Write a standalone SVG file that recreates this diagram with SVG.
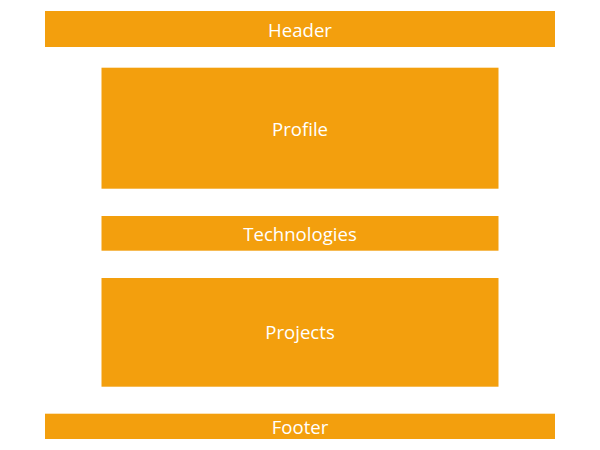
<svg xmlns="http://www.w3.org/2000/svg" width="600" height="450" viewBox="0 0 600 450">
<style>
.box{fill:#f39f0d;}
.lbl{fill:#ffffff;font-family:"Open Sans","Liberation Sans",sans-serif;font-size:18.6px;text-anchor:middle;dominant-baseline:central;}
</style>
<rect width="600" height="450" fill="#ffffff"/>
<g id="header"><rect class="box" x="45" y="11" width="510" height="36"/><text class="lbl" x="300" y="29">Header</text></g>
<g id="profile"><rect class="box" x="101.5" y="67.7" width="397" height="121"/><text class="lbl" x="300" y="128">Profile</text></g>
<g id="technologies"><rect class="box" x="101.5" y="216" width="397" height="34.7"/><text class="lbl" x="300" y="233">Technologies</text></g>
<g id="projects"><rect class="box" x="101.5" y="278" width="397" height="108.7"/><text class="lbl" x="300" y="331">Projects</text></g>
<g id="footer"><rect class="box" x="45" y="413.7" width="510" height="25.3"/><text class="lbl" x="300" y="426">Footer</text></g>
<g id="connectors"></g>
</svg>
